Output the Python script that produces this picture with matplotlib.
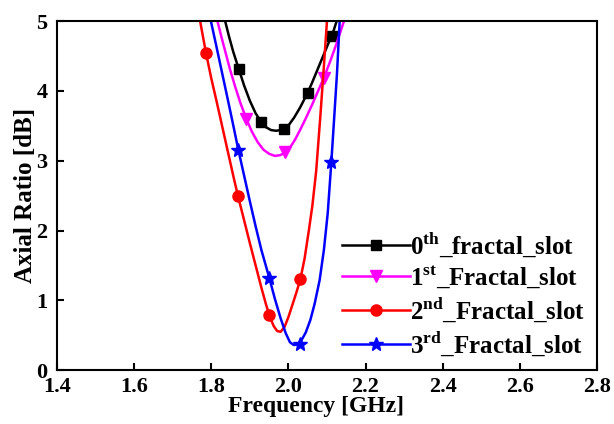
import matplotlib
matplotlib.use("Agg")
import matplotlib.pyplot as plt
from matplotlib.lines import Line2D

plt.rcParams["font.family"] = ["Liberation Serif", "DejaVu Serif"]
plt.rcParams["font.weight"] = "bold"
plt.rcParams["mathtext.fontset"] = "custom"
plt.rcParams["mathtext.rm"] = "Liberation Serif:bold"
plt.rcParams["mathtext.bf"] = "Liberation Serif:bold"

# curves (GHz, dB)
f0 = [1.836, 1.846, 1.857, 1.871, 1.885, 1.900, 1.915, 1.929, 1.942, 1.955, 1.968, 1.980,
      1.990, 2.002, 2.015, 2.030, 2.045, 2.060, 2.075, 2.090, 2.105, 2.113, 2.125]
ar0 = [5.00, 4.78, 4.56, 4.32, 4.08, 3.86, 3.68, 3.56, 3.48, 3.44, 3.43, 3.44,
       3.46, 3.52, 3.62, 3.76, 3.92, 4.10, 4.30, 4.50, 4.70, 4.79, 5.00]

f1 = [1.816, 1.826, 1.837, 1.848, 1.862, 1.876, 1.891, 1.905, 1.920, 1.935, 1.950, 1.965,
      1.978, 1.990, 2.003, 2.017, 2.032, 2.047, 2.062, 2.077, 2.092, 2.108, 2.125, 2.144]
ar1 = [5.00, 4.78, 4.55, 4.32, 4.06, 3.82, 3.60, 3.42, 3.27, 3.16, 3.10, 3.07,
       3.08, 3.11, 3.18, 3.30, 3.46, 3.63, 3.81, 4.00, 4.19, 4.42, 4.68, 5.00]

f2 = [1.771, 1.786, 1.800, 1.815, 1.830, 1.845, 1.858, 1.869, 1.885, 1.900, 1.915, 1.930,
      1.942, 1.952, 1.962, 1.971, 1.980, 1.990, 2.000, 2.010, 2.020, 2.031, 2.042, 2.053,
      2.062, 2.072, 2.083, 2.092, 2.100]
ar2 = [5.00, 4.55, 4.18, 3.82, 3.45, 3.08, 2.76, 2.50, 2.15, 1.82, 1.50, 1.18,
       0.94, 0.76, 0.63, 0.56, 0.55, 0.62, 0.76, 0.93, 1.10, 1.30, 1.60, 2.00,
       2.35, 2.85, 3.65, 4.35, 5.00]

f3 = [1.799, 1.812, 1.826, 1.840, 1.855, 1.870, 1.885, 1.900, 1.915, 1.930, 1.950, 1.965,
      1.980, 1.993, 2.004, 2.014, 2.024, 2.034, 2.045, 2.057, 2.068, 2.081, 2.092, 2.102,
      2.111, 2.118, 2.126, 2.133]
ar3 = [5.00, 4.67, 4.31, 3.95, 3.56, 3.16, 2.79, 2.42, 2.06, 1.72, 1.33, 1.02,
       0.74, 0.53, 0.40, 0.36, 0.37, 0.43, 0.54, 0.72, 0.95, 1.29, 1.72, 2.25,
       2.95, 3.55, 4.25, 5.00]

# marker positions
m0_f = [1.871, 1.929, 1.989, 2.050, 2.113]
m0_ar = [4.32, 3.55, 3.46, 3.97, 4.79]
m1_f = [1.891, 1.990, 2.092]
m1_ar = [3.60, 3.12, 4.19]
m2_f = [1.786, 1.869, 1.949, 2.031]
m2_ar = [4.55, 2.50, 0.79, 1.30]
m3_f = [1.870, 1.950, 2.029, 2.110]
m3_ar = [3.15, 1.32, 0.38, 2.98]

labels = [
    r"0$^{\mathrm{th}}$_fractal_slot",
    r"1$^{\mathrm{st}}$_Fractal_slot",
    r"2$^{\mathrm{nd}}$_Fractal_slot",
    r"3$^{\mathrm{rd}}$_Fractal_slot",
]
colors = ["black", "#ff00ff", "red", "blue"]
markers = ["s", "v", "o", "*"]
msizes = [7, 8, 8, 10]

fig = plt.figure(figsize=(6.14, 4.24), dpi=100)
ax = fig.add_axes([0.093, 0.127, 0.879, 0.823])

curves = [(f0, ar0, m0_f, m0_ar), (f1, ar1, m1_f, m1_ar), (f2, ar2, m2_f, m2_ar), (f3, ar3, m3_f, m3_ar)]
handles = []
for (cx, cy, mx, my), c, m, ms, lab in zip(curves, colors, markers, msizes, labels):
    ax.plot(cx, cy, color=c, lw=1.8, solid_joinstyle="round")
    ax.plot(mx, my, ls="none", marker=m, ms=ms, color=c)
    handles.append(Line2D([], [], color=c, lw=1.8, marker=m, ms=ms, label=lab))

ax.set_xlim(1.4, 2.8)
ax.set_ylim(0, 5)
ax.set_xticks([1.4, 1.6, 1.8, 2.0, 2.2, 2.4, 2.6, 2.8])
ax.set_xticklabels(["1.4", "1.6", "1.8", "2.0", "2.2", "2.4", "2.6", "2.8"])
ax.set_yticks([0, 1, 2, 3, 4, 5])
ax.tick_params(direction="in", length=5, width=1.5, labelsize=16,
               top=False, right=False)
ax.tick_params(axis="x", pad=5)
ax.tick_params(axis="y", pad=7)
for sp in ax.spines.values():
    sp.set_linewidth(1.5)

ax.set_xlabel("Frequency [GHz]", fontsize=17, fontweight="bold")
ax.set_ylabel("Axial Ratio [dB]", fontsize=18, fontweight="bold")
ax.xaxis.set_label_coords(0.48, -0.075)
ax.yaxis.set_label_coords(-0.038, 0.5)

ax.legend(handles=handles, loc="lower left", bbox_to_anchor=(0.528, 0.035),
          frameon=False, fontsize=18, handlelength=2.7, handletextpad=0.0,
          labelspacing=0.2, borderpad=0, borderaxespad=0)

fig.savefig("out.png", dpi=100)
